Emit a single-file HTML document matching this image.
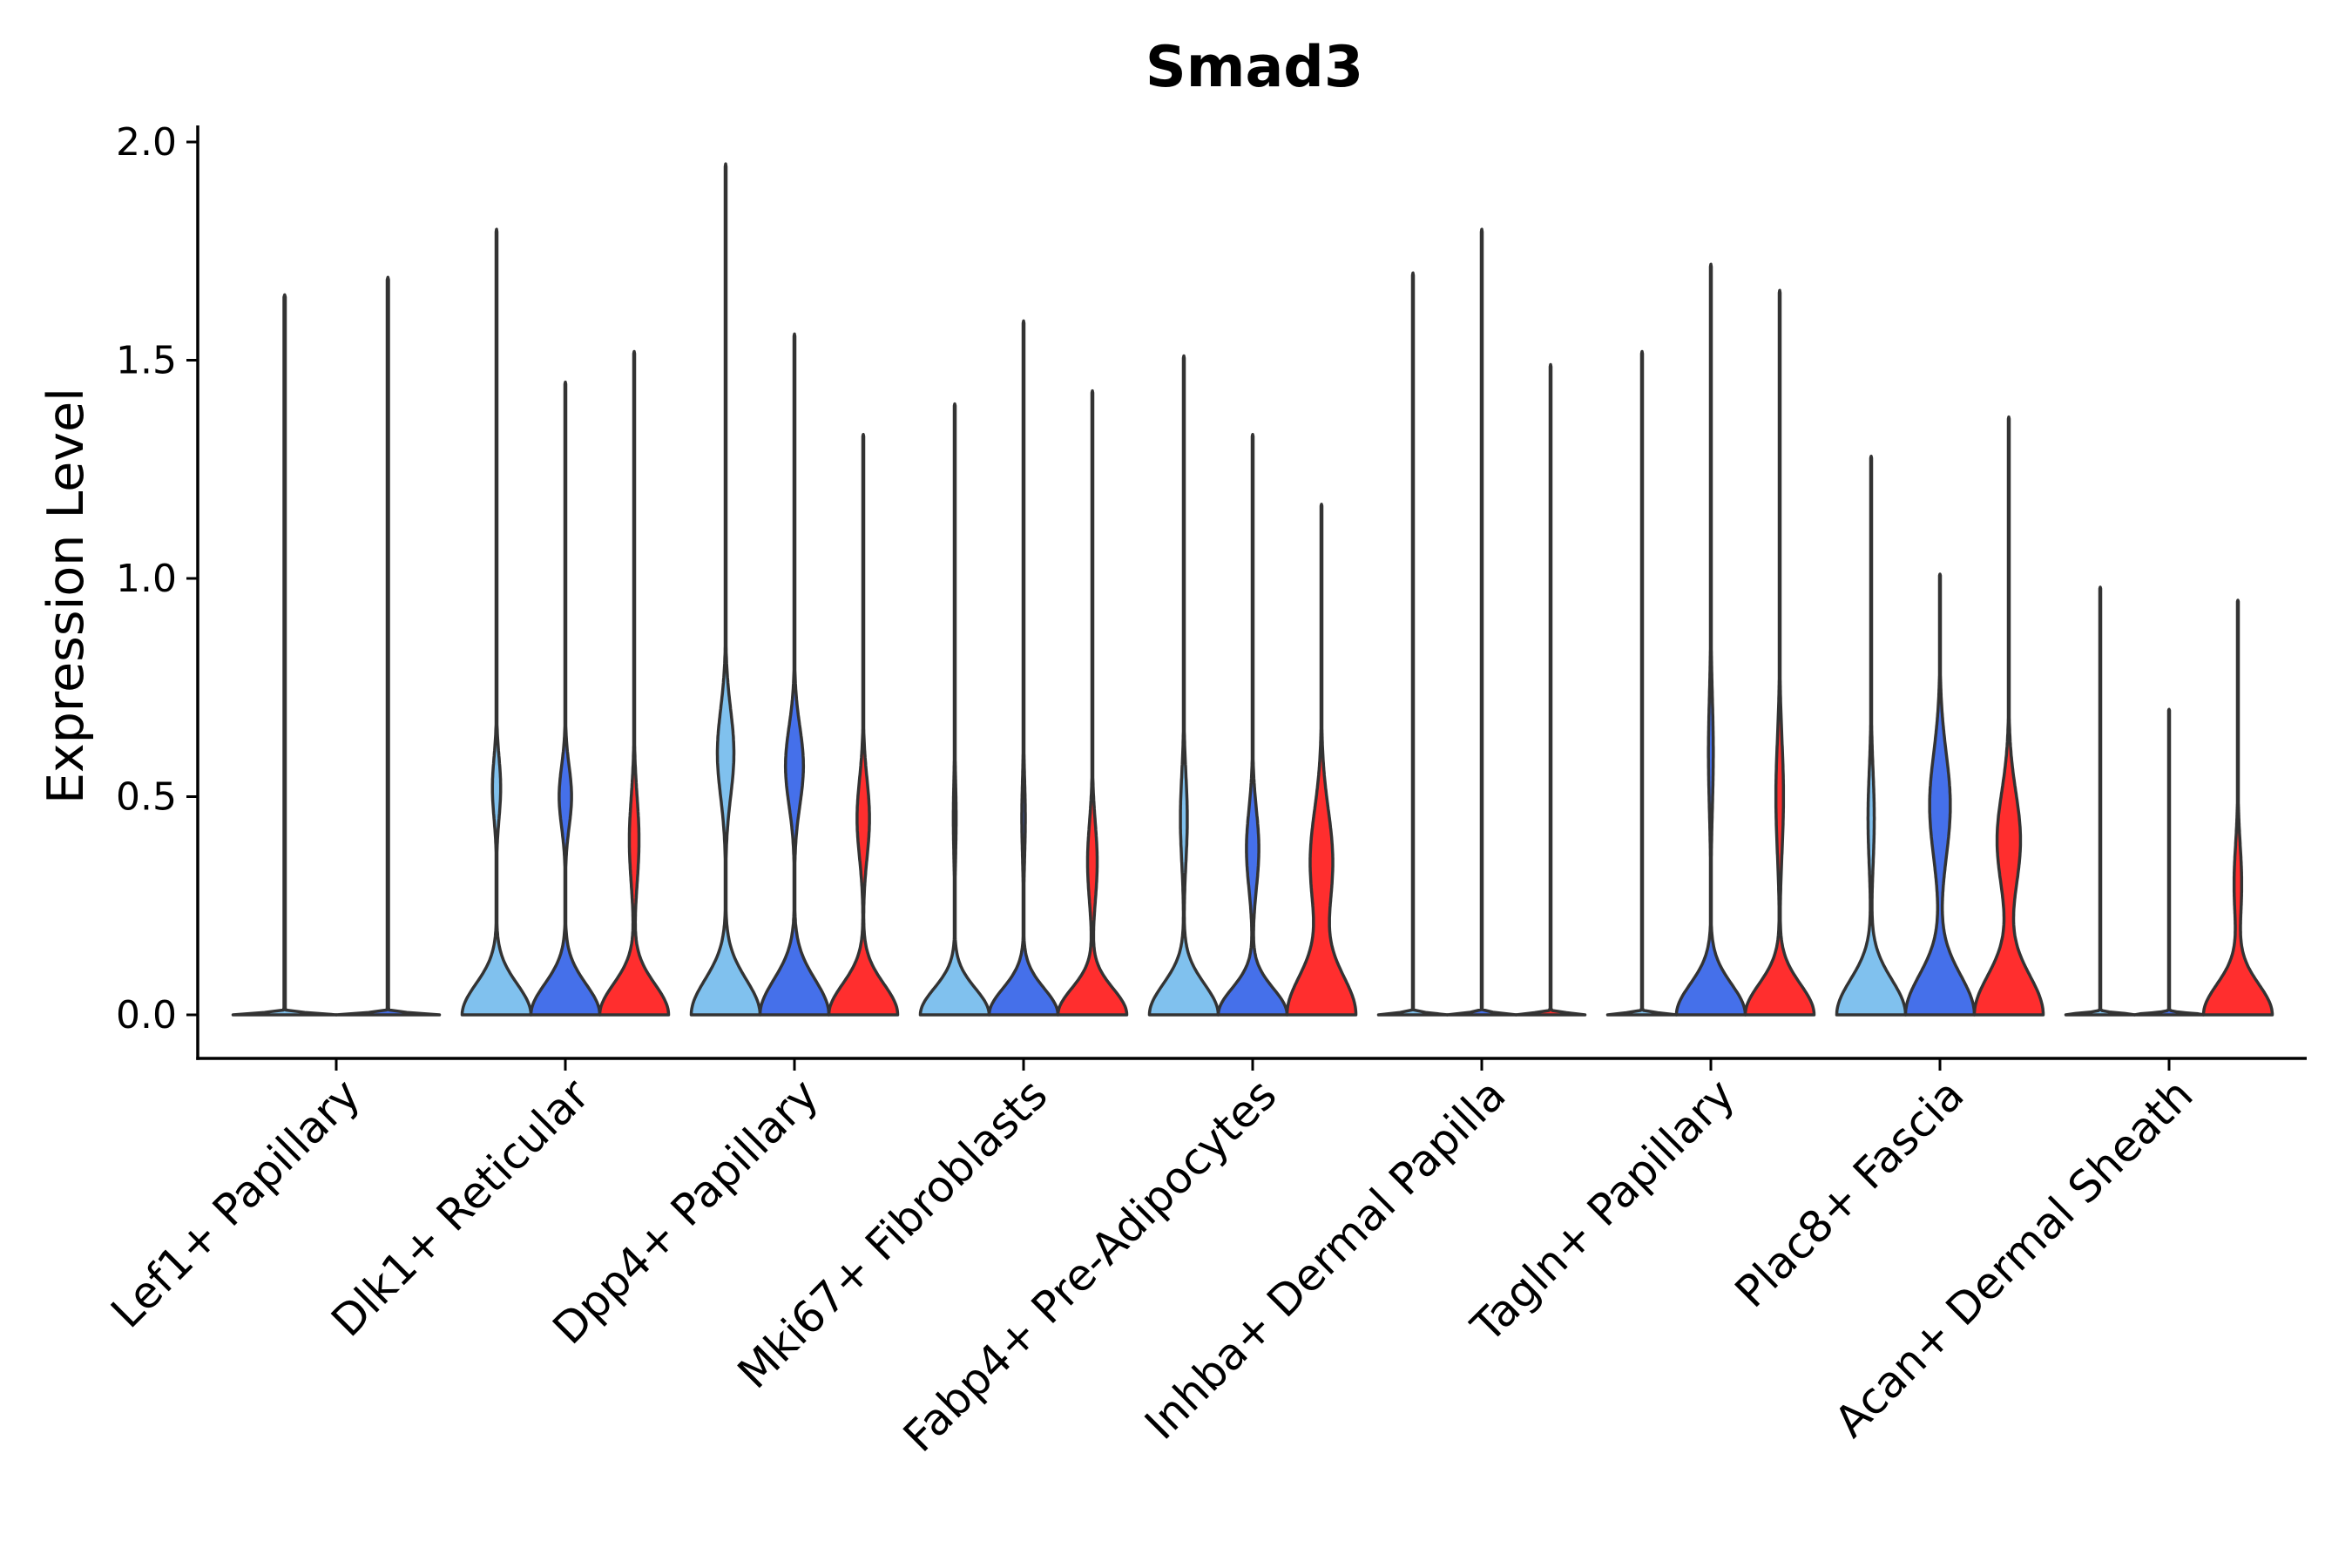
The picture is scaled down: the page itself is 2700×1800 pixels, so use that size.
<!DOCTYPE html>
<html><head><meta charset="utf-8"><style>
html,body{margin:0;padding:0;background:#fff;}
svg{display:block;font-family:"DejaVu Sans","Liberation Sans",sans-serif;}
</style></head><body>
<svg id="chart" width="2700" height="1800" viewBox="0 0 2700 1800" xmlns="http://www.w3.org/2000/svg">
<text x="1440" y="99" font-size="65" font-weight="bold" text-anchor="middle">Smad3</text>
<text transform="translate(95,684) rotate(-90)" font-size="57" text-anchor="middle">Expression Level</text>
<g id="violins"></g>
<g id="axes"></g>
</svg>
<script>
const categories = ["Lef1+ Papillary","Dlk1+ Reticular","Dpp4+ Papillary","Mki67+ Fibroblasts","Fabp4+ Pre-Adipocytes","Inhba+ Dermal Papilla","Tagln+ Papillary","Plac8+ Fascia","Acan+ Dermal Sheath"];
const yTicks = [0, 0.5, 1.0, 1.5, 2.0];
const yTickLabels = ["0.0","0.5","1.0","1.5","2.0"];
const palette = ["#80C1EE","#4570EA","#FF2E2E"];
// per-violin data
const vGroup = [0,0, 1,1,1, 2,2,2, 3,3,3, 4,4,4, 5,5,5, 6,6,6, 7,7,7, 8,8,8];
const vSlot  = [0,1, 0,1,2, 0,1,2, 0,1,2, 0,1,2, 0,1,2, 0,1,2, 0,1,2, 0,1,2];
const vCount = [2,2, 3,3,3, 3,3,3, 3,3,3, 3,3,3, 3,3,3, 3,3,3, 3,3,3, 3,3,3];
const vColor = [0,1, 0,1,2, 0,1,2, 0,1,2, 0,1,2, 0,1,2, 0,1,2, 0,1,2, 0,1,2];
const vMax   = [1.65,1.69, 1.80,1.45,1.52, 1.95,1.56,1.33, 1.40,1.59,1.43, 1.51,1.33,1.17, 1.70,1.80,1.49, 1.52,1.72,1.66, 1.28,1.01,1.37, 0.98,0.70,0.95];
const vBaseSd= [0.004,0.004, 0.07,0.07,0.07, 0.08,0.08,0.07, 0.06,0.06,0.06, 0.07,0.06,0.09, 0.004,0.004,0.004, 0.004,0.07,0.07, 0.08,0.09,0.09, 0.004,0.004,0.07];
const vMu    = [0,0, 0.52,0.50,0.40, 0.60,0.57,0.45, 0.45,0.45,0.35, 0.45,0.38,0.35, 0,0,0, 0,0.60,0.50, 0.45,0.48,0.40, 0,0,0.30];
const vH     = [0,0, 0.12,0.18,0.14, 0.24,0.26,0.18, 0.04,0.05,0.14, 0.10,0.18,0.33, 0,0,0, 0,0.07,0.11, 0.09,0.30,0.34, 0,0,0.11];
const vSd    = [0.1,0.1, 0.07,0.07,0.10, 0.10,0.09,0.09, 0.09,0.09,0.09, 0.10,0.09,0.12, 0.1,0.1,0.1, 0.1,0.13,0.13, 0.11,0.12,0.11, 0.1,0.1,0.09];

const plotL=227, plotR=2648, plotT=144, axisY=1215;
const y0px=1165, pxPerUnit=501;
const groupX0=386, groupStep=263, groupWidth=237;
function yScale(v){return y0px - v*pxPerUnit;}
function xScale(i){return groupX0 + i*groupStep;}
const NS="http://www.w3.org/2000/svg";
const vg=document.getElementById('violins');
const ax=document.getElementById('axes');

for(let k=0;k<vMax.length;k++){
  const n=vCount[k];
  const slotW=groupWidth/n;
  const cx=xScale(vGroup[k]) - groupWidth/2 + slotW*(vSlot[k]+0.5);
  const hw=slotW/2;
  const N=300;
  let wmax=0;
  const ws=[];
  for(let i=0;i<=N;i++){
    const y=vMax[k]*i/N;
    let w=Math.exp(-y*y/(2*vBaseSd[k]*vBaseSd[k]));
    if(vH[k]>0) w+=vH[k]*Math.exp(-(y-vMu[k])*(y-vMu[k])/(2*vSd[k]*vSd[k]));
    ws.push([y,w]); if(w>wmax)wmax=w;
  }
  const right=[],left=[];
  ws.forEach(([y,w],i)=>{
    let r=w/wmax; if(i<N) r=Math.max(r,0.012); else r=0;
    right.push((cx+r*hw).toFixed(1)+","+yScale(y).toFixed(1));
    left.push((cx-r*hw).toFixed(1)+","+yScale(y).toFixed(1));
  });
  const d="M"+right.join(" L")+" L"+left.reverse().join(" L")+" Z";
  const p=document.createElementNS(NS,'path');
  p.setAttribute('d',d);
  p.setAttribute('fill',palette[vColor[k]]);
  p.setAttribute('stroke','#333333');
  p.setAttribute('stroke-width','3.5');
  p.setAttribute('stroke-linejoin','round');
  
  
  vg.appendChild(p);
}

function line(x1,y1,x2,y2,w,name){
  const l=document.createElementNS(NS,'line');
  l.setAttribute('x1',x1);l.setAttribute('y1',y1);l.setAttribute('x2',x2);l.setAttribute('y2',y2);
  l.setAttribute('stroke','#000');l.setAttribute('stroke-width',w);
  
  
  ax.appendChild(l);
}
line(plotL,plotT,plotL,axisY+1.75,3.5,'y-axis-line');
line(plotL-1.75,axisY,plotR,axisY,3.5,'x-axis-line');
yTicks.forEach((v,i)=>{
  const y=yScale(v);
  line(plotL-13,y,plotL,y,3,'y-tick');
  const t=document.createElementNS(NS,'text');
  t.setAttribute('x',plotL-24);t.setAttribute('y',y+15);
  t.setAttribute('font-size','44');t.setAttribute('text-anchor','end');
  t.textContent=yTickLabels[i];
  
  
  ax.appendChild(t);
});
categories.forEach((c,i)=>{
  const x=xScale(i);
  line(x,axisY,x,axisY+14,3,'x-tick');
  const t=document.createElementNS(NS,'text');
  const ax0=x+4, ay0=1234;
  t.setAttribute('transform','translate('+ax0+','+ay0+') rotate(-45)');
  t.setAttribute('font-size','50');t.setAttribute('text-anchor','end');
  t.setAttribute('dominant-baseline','hanging');
  t.textContent=c;
  
  
  ax.appendChild(t);
});
</script>
</body></html>
